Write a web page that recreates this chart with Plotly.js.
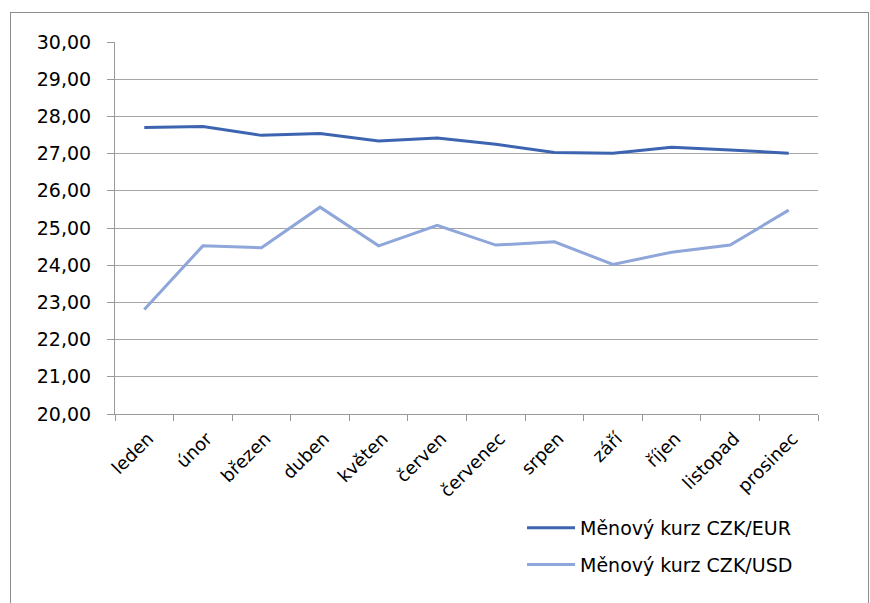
<!DOCTYPE html>
<html><head><meta charset="utf-8">
<script src="https://cdn.plot.ly/plotly-3.0.1.min.js"></script>
<style>
html,body{margin:0;padding:0;background:#fff;}
#frame{position:absolute;left:10px;top:12px;width:857px;height:600px;border:1px solid #8c8c8c;pointer-events:none;}
#chart{position:absolute;left:0;top:0;width:870px;height:603px;}
</style></head>
<body>
<div id="chart"></div>
<div id="frame"></div>
<script>
const months = ["leden","únor","březen","duben","květen","červen","červenec","srpen","září","říjen","listopad","prosinec"];
const eur = [27.70,27.73,27.49,27.54,27.34,27.42,27.25,27.03,27.01,27.17,27.10,27.01];
const usd = [22.81,24.52,24.47,25.56,24.52,25.07,24.54,24.63,24.02,24.35,24.54,25.48];
const yTicks = [20,21,22,23,24,25,26,27,28,29,30];
const yTickText = yTicks.map(v => v.toFixed(2).replace('.', ','));
const nameEur = "Měnový kurz CZK/EUR";
const nameUsd = "Měnový kurz CZK/USD";

const font = "'DejaVu Sans', sans-serif";
const traces = [
  {x: months, y: eur, type: 'scatter', mode: 'lines', name: nameEur, legendgroup: 'a',
   line: {color: '#3d64b0', width: 3}},
  {x: months, y: usd, type: 'scatter', mode: 'lines', name: nameUsd, legendgroup: 'b',
   line: {color: '#8ea6d9', width: 3}}
];
const layout = {
  width: 870, height: 603,
  margin: {l: 115, r: 52, t: 42, b: 189},
  paper_bgcolor: '#fff', plot_bgcolor: '#fff',
  font: {family: font, size: 18, color: '#000'},
  showlegend: true,
  legend: {x: 0.579, y: -0.255, xanchor: 'left', yanchor: 'top', traceorder: 'grouped',
           itemwidth: 48, tracegroupgap: 9, font: {family: font, size: 19, color: '#000'},
           bgcolor: 'rgba(0,0,0,0)'},
  xaxis: {type: 'category', range: [-0.5, months.length - 0.5], showgrid: false, showline: true,
          linecolor: '#9a9a9a', linewidth: 1,
          ticks: 'outside', tickson: 'boundaries', ticklen: 6, tickcolor: '#9a9a9a',
          tickangle: -45, tickfont: {family: font, size: 18}, zeroline: false, fixedrange: true,
          ticklabelshift: 4, ticklabelstandoff: 6},
  yaxis: {range: [20, 30], tickvals: yTicks, ticktext: yTickText, showgrid: true,
          gridcolor: '#a6a6a6', gridwidth: 1, showline: true, linecolor: '#9a9a9a', linewidth: 1,
          ticks: 'outside', ticklen: 7, tickcolor: '#9a9a9a', zeroline: false,
          tickfont: {family: font, size: 19}, fixedrange: true, ticklabelstandoff: 12}
};
Plotly.newPlot('chart', traces, layout, {displayModeBar: false, staticPlot: true});
</script>
</body></html>
